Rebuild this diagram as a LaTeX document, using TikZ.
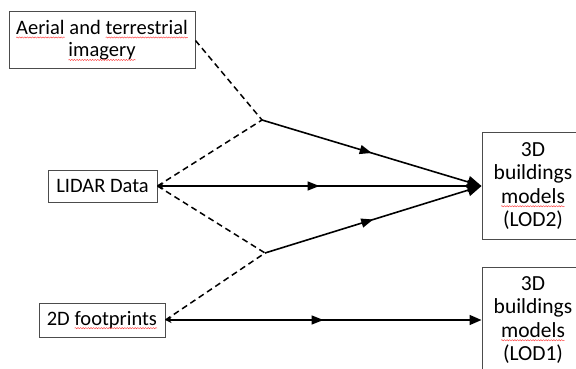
\documentclass[tikz,border=0pt]{standalone}
\usepackage{fontspec}
\setmainfont{Carlito}
\usetikzlibrary{arrows.meta,decorations.markings,decorations.pathmorphing}

% red wavy spell-check underline under a word
\newcommand{\spellmark}[1]{\tikz[baseline=(sw.base)]{%
  \node[draw=none,fill=none,inner sep=0pt,outer sep=0pt,minimum width=0pt,minimum height=0pt](sw){#1};%
  \draw[red!75,line width=0.45pt,solid,decorate,decoration={snake,amplitude=0.6pt,segment length=2.6pt}]
    ([yshift=-3pt]sw.base west)--([yshift=-3pt]sw.base east);}}

\tikzset{
  box/.style={draw=black!70,line width=1pt,align=center,inner sep=0pt,
    font=\fontsize{20.5}{24.5}\selectfont},
  result/.style={box,minimum width=102pt,font=\fontsize{21.5}{23.5}\selectfont},
  feed/.style={line width=1.5pt,dash pattern=on 6pt off 4pt},
  flow/.style={line width=1.6pt},
  midarrow/.style={postaction={decorate},decoration={markings,
    mark=at position 0.5 with {\arrow{Triangle[length=12pt,width=9pt]}}}},
}

\begin{document}
\begin{tikzpicture}[x=1pt,y=-1pt]
  \useasboundingbox (0,0) rectangle (576,369);
  \clip (0,0) rectangle (576,369);

  % source boxes
  \node[box,minimum width=186pt,minimum height=57pt] (aerial) at (102,40.5)
    {\spellmark{Aerial} and \spellmark{terrestrial}\\[-2pt]\spellmark{imagery}};
  \node[box,minimum width=109pt,minimum height=32pt] (lidar) at (102.5,186) {LIDAR Data};
  \node[box,minimum width=126pt,minimum height=34pt] (foot) at (102,320)
    {2D \spellmark{footprints}};

  % result boxes
  \node[result,minimum height=107pt] (lod2) at (533,186)
    {3D\\buildings\\\spellmark{models}\\(LOD2)};
  \node[result,minimum height=106pt] (lod1) at (533,320)
    {3D\\buildings\\\spellmark{models}\\(LOD1)};

  % junctions where the dashed inputs merge
  \coordinate (j1) at (262,120);
  \coordinate (j2) at (265,253);

  % dashed inputs
  \draw[feed] (aerial.east) -- (j1);
  \draw[feed] (lidar.east) -- (j1);
  \draw[feed] (lidar.east) -- (j2);
  \draw[feed] (foot.east) -- (j2);

  % solid flows
  \draw[flow,midarrow,-{Triangle[length=14pt,width=12pt]}] (j1) -- (lod2.west);
  \draw[flow,midarrow,-{Triangle[length=14pt,width=12pt]}] (j2) -- (lod2.west);
  \draw[flow,midarrow,{Stealth[length=6pt,width=6pt]}-{Triangle[length=14pt,width=12pt]}] (lidar.east) -- (lod2.west);
  \draw[flow,midarrow,{Stealth[length=6pt,width=6pt]}-{Triangle[length=12pt,width=10pt]}] (foot.east) -- (lod1.west);
\end{tikzpicture}
\end{document}
